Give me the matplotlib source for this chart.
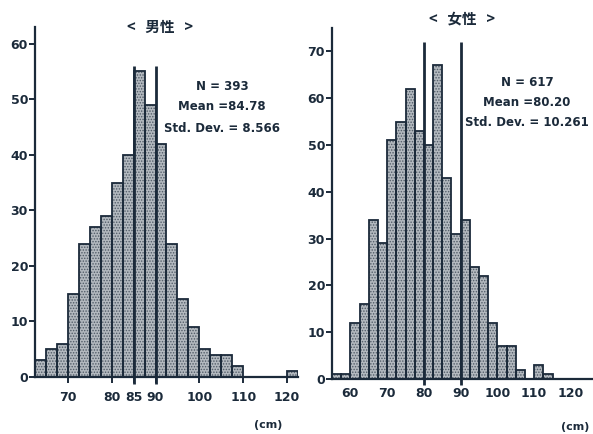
import matplotlib
matplotlib.use("Agg")
import matplotlib.pyplot as plt
import numpy as np

plt.rcParams['font.family'] = ['DejaVu Sans', 'Noto Sans CJK JP']
plt.rcParams['hatch.linewidth'] = 0.7

# Waist circumference histograms (2.5 cm bins)
male_bin_start = 62.5
male_counts = [3, 5, 6, 15, 24, 27, 29, 35, 40, 55, 49, 42, 24, 14, 9, 5, 4, 4, 2,
               0, 0, 0, 0, 1]
male_cutoffs = [85, 90]
male_stats = ["N = 393", "Mean =84.78", "Std. Dev. = 8.566"]
male_title = "<   男性   >"
male_xticks = [70, 80, 85, 90, 100, 110, 120]
male_yticks = [0, 10, 20, 30, 40, 50, 60]

female_bin_start = 55.0
female_counts = [1, 1, 12, 16, 34, 29, 51, 55, 62, 53, 50, 67, 43, 31, 34, 24, 22,
                 12, 7, 7, 2, 0, 3, 1]
female_cutoffs = [80, 90]
female_stats = ["N = 617", "Mean =80.20", "Std. Dev. = 10.261"]
female_title = "<   女性   >"
female_xticks = [60, 70, 80, 90, 100, 110, 120]
female_yticks = [0, 10, 20, 30, 40, 50, 60, 70]

bin_width = 2.5
ink = '#1b2a3a'
fill = '#b3b9bf'

W, H = 593, 434
fig = plt.figure(figsize=(W / 100, H / 100), dpi=100)
fig.patch.set_facecolor('white')


def px_axes(x0, x1, ytop, ybot):
    return fig.add_axes([x0 / W, 1 - ybot / H, (x1 - x0) / W, (ybot - ytop) / H])


def draw_panel(ax, start, counts, cutoffs, cut_top, xlim, ylim, xticks, yticks,
               xtick_len):
    counts = np.asarray(counts, dtype=float)
    lefts = start + bin_width * np.arange(len(counts))
    keep = counts > 0
    ax.bar(lefts[keep], counts[keep], width=bin_width, align='edge',
           facecolor=fill, edgecolor='#4f5a66', hatch='......', linewidth=0, zorder=2)
    ax.bar(lefts[keep], counts[keep], width=bin_width, align='edge',
           facecolor='none', edgecolor=ink, linewidth=1.3, zorder=3)
    for c in cutoffs:
        ax.plot([c, c], [-1.2, cut_top], color=ink, lw=2.0, zorder=4,
                clip_on=False, solid_capstyle='butt')
    ax.set_xlim(*xlim)
    ax.set_ylim(*ylim)
    ax.set_xticks(xticks)
    ax.set_yticks(yticks)
    for s in ('top', 'right'):
        ax.spines[s].set_visible(False)
    for s in ('left', 'bottom'):
        ax.spines[s].set_color(ink)
        ax.spines[s].set_linewidth(1.6)
    ax.tick_params(axis='y', direction='out', length=4, width=1.4, color=ink,
                   labelsize=9, labelcolor=ink, pad=1)
    ax.tick_params(axis='x', direction='out', length=xtick_len, width=1.4,
                   color=ink, labelsize=9, labelcolor=ink, pad=6)
    for lab in ax.get_xticklabels() + ax.get_yticklabels():
        lab.set_fontweight('bold')
    ax.set_facecolor('none')


ax1 = px_axes(35, 298, 27, 377)
draw_panel(ax1, male_bin_start, male_counts, male_cutoffs, 56,
           (62.5, 122.5), (0, 63), male_xticks, male_yticks, 4)

ax2 = px_axes(332, 593, 28, 379)
draw_panel(ax2, female_bin_start, female_counts, female_cutoffs, 72,
           (55, 126), (0, 75), female_xticks, female_yticks, 0)

# Titles
fig.text(160 / W, 1 - 27 / H, male_title, ha='center', va='center', fontsize=10.5,
         fontweight='bold', color=ink, family=['Noto Sans CJK JP', 'DejaVu Sans'])
fig.text(462 / W, 1 - 18 / H, female_title, ha='center', va='center', fontsize=10.5,
         fontweight='bold', color=ink, family=['Noto Sans CJK JP', 'DejaVu Sans'])

# Summary statistics
for i, line in enumerate(male_stats):
    fig.text(222 / W, 1 - (86 + 21 * i) / H, line, ha='center', va='center',
             fontsize=8.5, fontweight='bold', color=ink)
for i, line in enumerate(female_stats):
    fig.text(527 / W, 1 - (82 + 20 * i) / H, line, ha='center', va='center',
             fontsize=8.5, fontweight='bold', color=ink)

# Unit labels
fig.text(268 / W, 1 - 425 / H, "(cm)", ha='center', va='center', fontsize=8,
         fontweight='bold', color=ink)
fig.text(575 / W, 1 - 427 / H, "(cm)", ha='center', va='center', fontsize=8,
         fontweight='bold', color=ink)

fig.savefig('out.png', dpi=100, facecolor='white')
